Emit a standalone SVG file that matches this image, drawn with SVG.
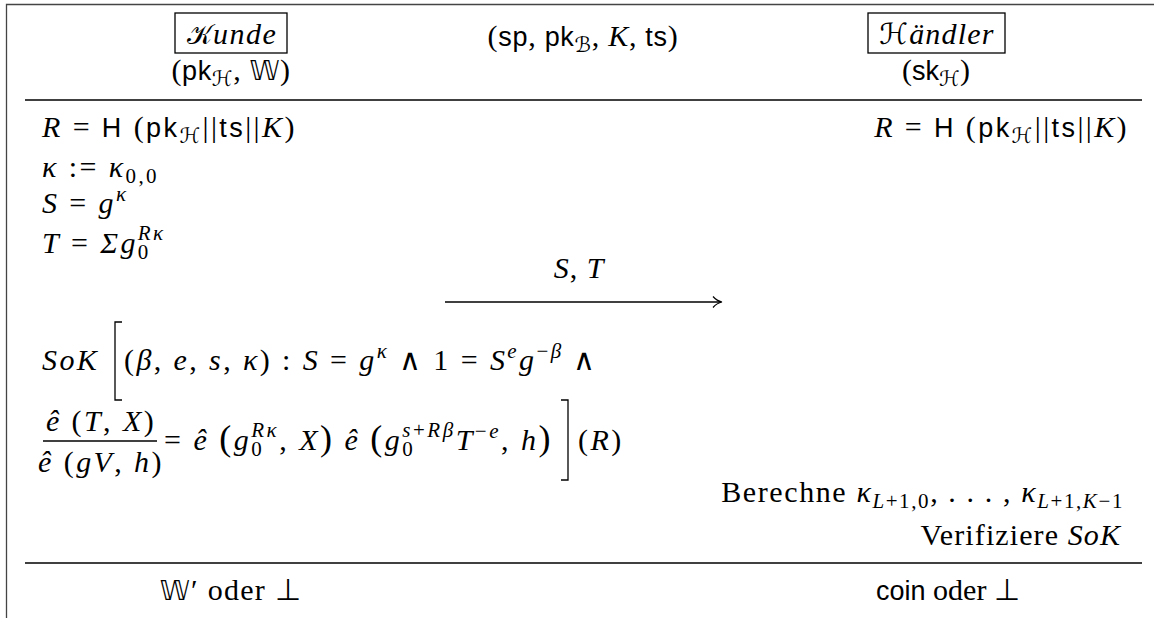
<svg xmlns="http://www.w3.org/2000/svg" width="1154" height="618" viewBox="0 0 1154 618">
<style>
text{font-family:"Liberation Serif",serif;font-size:30px;fill:#000}
.m{letter-spacing:2.4px}
.i{font-style:italic}
.sf{font-family:"Liberation Sans","DejaVu Sans",sans-serif;font-size:27px}
.cal{font-family:"DejaVu Sans",serif;font-style:normal}
.s{font-size:21px}
.big{font-size:36px}
.ln{stroke:#000;stroke-width:1.3;fill:none}
.frame{stroke:#444;stroke-width:1.3;fill:none}
</style>
<defs>
<marker id="ah" markerWidth="14" markerHeight="14" refX="11" refY="7" orient="auto" markerUnits="userSpaceOnUse">
<path d="M3,1.5 Q7,6 12,7 Q7,8 3,12.5" fill="none" stroke="#000" stroke-width="1.2"/>
</marker>
</defs>
<rect width="1154" height="618" fill="#fff"/>
<path class="frame" d="M1154,4.5 H6.5 V618"/>
<g id="header-kunde">
<rect x="175" y="13" width="112" height="40" class="ln"/>
<text x="232" y="44" text-anchor="middle" letter-spacing="1.5"><tspan class="cal" font-size="27">𝒦</tspan><tspan class="i">unde</tspan></text>
<text x="231" y="80" text-anchor="middle" letter-spacing="0.6">(<tspan class="sf">pk</tspan><tspan class="s cal" dy="6">ℋ</tspan><tspan dy="-6">, </tspan><tspan class="cal" font-size="27">𝕎</tspan>)</text>
</g>
<g id="header-params">
<text x="583" y="46" text-anchor="middle" letter-spacing="0.7">(<tspan class="sf">sp</tspan>, <tspan class="sf">pk</tspan><tspan class="s cal" dy="6">ℬ</tspan><tspan dy="-6">, </tspan><tspan class="i">K</tspan>, <tspan class="sf">ts</tspan>)</text>
</g>
<g id="header-haendler">
<rect x="868" y="13" width="137" height="40" class="ln"/>
<text x="937" y="44" text-anchor="middle" letter-spacing="1.2"><tspan class="cal" font-size="29">ℋ</tspan><tspan class="i">ändler</tspan></text>
<text x="936" y="80" text-anchor="middle">(<tspan class="sf">sk</tspan><tspan class="s cal" dy="6">ℋ</tspan><tspan dy="-6">)</tspan></text>
</g>
<g id="rules">
<line class="ln" x1="25" y1="100" x2="1142" y2="100"/>
<line class="ln" x1="25" y1="563" x2="1142" y2="563"/>
</g>
<g id="kunde-steps">
<text class="m" x="42" y="137"><tspan class="i">R</tspan> = <tspan class="sf">H</tspan> (<tspan class="sf">pk</tspan><tspan class="s cal" dy="6">ℋ</tspan><tspan dy="-6">||</tspan><tspan class="sf">ts</tspan>||<tspan class="i">K</tspan>)</text>
<text class="m" x="42" y="177"><tspan class="i">κ</tspan> := <tspan class="i">κ</tspan><tspan class="s" dy="6">0,0</tspan></text>
<text class="m" x="42" y="213"><tspan class="i">S</tspan> = <tspan class="i">g</tspan><tspan class="s i" dy="-12">κ</tspan></text>
<text class="m" x="42" y="253"><tspan class="i">T</tspan> = <tspan class="i">Σg</tspan><tspan class="s" dy="6">0</tspan><tspan class="s i" dx="-12.9" dy="-19">Rκ</tspan></text>
</g>
<g id="haendler-steps">
<text class="m" x="1129" y="137" text-anchor="end"><tspan class="i">R</tspan> = <tspan class="sf">H</tspan> (<tspan class="sf">pk</tspan><tspan class="s cal" dy="6">ℋ</tspan><tspan dy="-6">||</tspan><tspan class="sf">ts</tspan>||<tspan class="i">K</tspan>)</text>
<text x="1124" y="502" text-anchor="end" letter-spacing="1.6">Berechne <tspan class="i">κ</tspan><tspan class="s" dy="6"><tspan class="i">L</tspan>+1,0</tspan><tspan dy="-6">, . . . , </tspan><tspan class="i">κ</tspan><tspan class="s" dy="6"><tspan class="i">L</tspan>+1,<tspan class="i">K</tspan>−1</tspan></text>
<text x="1121" y="545" text-anchor="end" letter-spacing="1.1">Verifiziere <tspan class="i">SoK</tspan></text>
</g>
<g id="connectors">
<line class="ln" x1="445" y1="302" x2="721" y2="302" marker-end="url(#ah)"/>
<text x="579" y="278" text-anchor="middle" letter-spacing="1"><tspan class="i">S</tspan>, <tspan class="i">T</tspan></text>
</g>
<g id="sok">
<text class="m i" x="42" y="370">SoK</text>
<path class="ln" d="M122,322 H115 V400 H122"/>
<text class="m" x="124" y="370">(<tspan class="i">β</tspan>, <tspan class="i">e</tspan>, <tspan class="i">s</tspan>, <tspan class="i">κ</tspan>) : <tspan class="i">S</tspan> = <tspan class="i">g</tspan><tspan class="s i" dy="-12">κ</tspan><tspan dy="12">  ∧  1 = </tspan><tspan class="i">S</tspan><tspan class="s i" dy="-12">e</tspan><tspan class="i" dy="12">g</tspan><tspan class="s" dy="-12">−<tspan class="i">β</tspan></tspan><tspan dy="12">  ∧</tspan></text>
<text class="m" x="101" y="431" text-anchor="middle"><tspan class="i">ê</tspan> (<tspan class="i">T</tspan>, <tspan class="i">X</tspan>)</text>
<line class="ln" x1="43" y1="441" x2="157" y2="441"/>
<text class="m" x="101" y="472" text-anchor="middle"><tspan class="i">ê</tspan> (<tspan class="i">gV</tspan>, <tspan class="i">h</tspan>)</text>
<text x="164" y="450" letter-spacing="2.5">= <tspan class="i">ê</tspan> <tspan class="big">(</tspan><tspan class="i">g</tspan><tspan class="s" dy="6">0</tspan><tspan class="s i" dx="-13" dy="-19">Rκ</tspan><tspan dy="13">, </tspan><tspan class="i">X</tspan><tspan class="big">)</tspan> <tspan class="i">ê</tspan> <tspan class="big">(</tspan><tspan class="i">g</tspan><tspan class="s" dy="6">0</tspan><tspan class="s" dx="-13" dy="-19"><tspan class="i">s</tspan>+<tspan class="i">Rβ</tspan></tspan><tspan class="i" dy="13">T</tspan><tspan class="s" dy="-12">−<tspan class="i">e</tspan></tspan><tspan dy="12">, </tspan><tspan class="i">h</tspan><tspan class="big">)</tspan></text>
<path class="ln" d="M561,400 H568 V480 H561"/>
<text class="m" x="578" y="450">(<tspan class="i">R</tspan>)</text>
</g>
<g id="results">
<text x="231" y="600" text-anchor="middle" letter-spacing="1.3"><tspan class="cal" font-size="27">𝕎</tspan>′ oder ⊥</text>
<text x="948" y="600" text-anchor="middle"><tspan class="sf" font-size="25">coin</tspan> oder ⊥</text>
</g>
</svg>
